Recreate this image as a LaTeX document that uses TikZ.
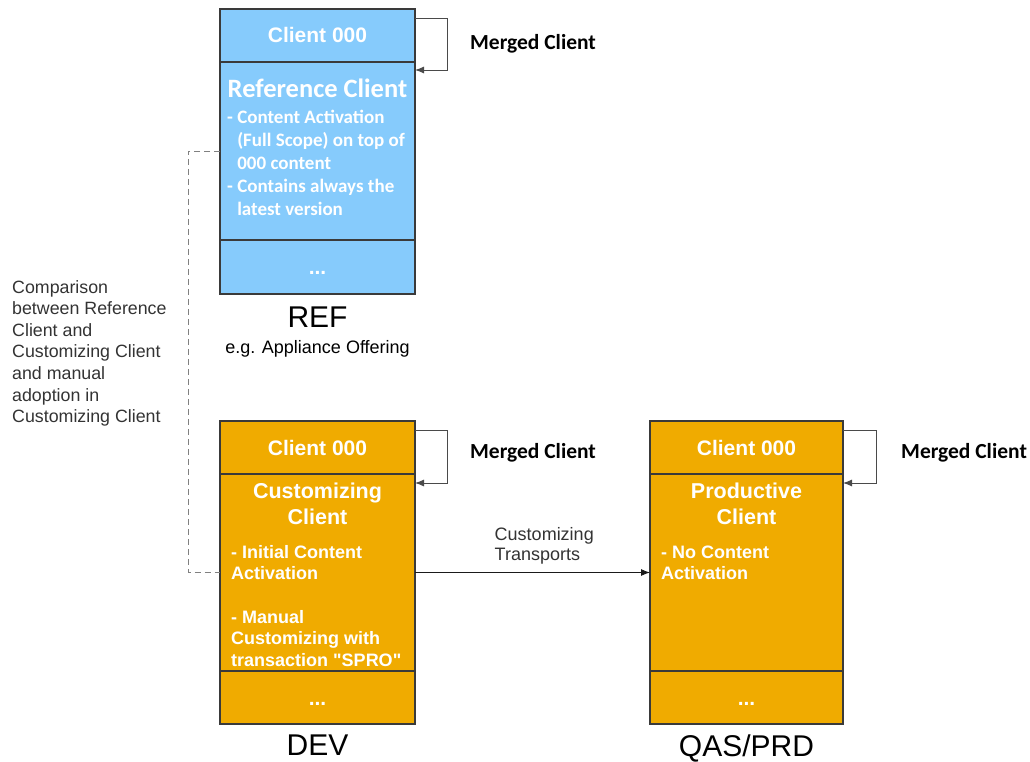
\documentclass[tikz,border=0pt]{standalone}
\usepackage{fontspec}
\setmainfont{Liberation Sans}
\newfontfamily\calibri{Carlito}
\usepackage{tikz}
\usetikzlibrary{arrows.meta, positioning, calc}
\definecolor{refblue}{HTML}{86CBFC}
\definecolor{sapgold}{HTML}{F0AB00}
\definecolor{cellline}{HTML}{3A3A3A}
\definecolor{loopgray}{HTML}{4A4A4A}
\definecolor{notegray}{HTML}{333333}
\definecolor{inkdark}{HTML}{1A1A1A}
\tikzset{
  arr/.style={-{Latex[length=9pt, width=7pt]}, line width=0.9pt, inkdark},
  selfarr/.style={-{Latex[length=9pt, width=7pt]}, line width=0.9pt, loopgray},
  cmpline/.style={dash pattern=on 6pt off 4pt, line width=0.9pt, gray},
  cell/.style={rectangle, draw=cellline, line width=1.2pt, minimum width=195pt, inner sep=0pt, outer sep=0pt, text=white, text height=15pt, text depth=0pt, font=\bfseries\fontsize{21}{25}\selectfont},
}

\begin{document}
\begin{tikzpicture}[x=1pt, y=-1pt,
    head/.style={anchor=base, align=center, inner sep=0pt, text=white, font=\bfseries\fontsize{21.5}{26}\selectfont},
    note/.style={anchor=base west, align=left, inner sep=0pt, text=white, font=\bfseries\fontsize{18}{21.7}\selectfont},
    merged/.style={anchor=base west, inner sep=0pt, font=\calibri\bfseries\fontsize{21.5}{25}\selectfont},
    syslabel/.style={inner sep=0pt, font=\fontsize{30}{36}\selectfont},
    sublabel/.style={inner sep=0pt, font=\fontsize{18}{22}\selectfont}]

  \useasboundingbox (0,0) rectangle (1030,762);

  % REF system (blue)
  \node[cell, fill=refblue, minimum height=53pt] (ref000) at (317.5,35.5) {Client 000};
  \node[cell, fill=refblue, minimum height=178pt, below=0pt of ref000] (refmain) {};
  \node[cell, fill=refblue, minimum height=54pt, below=0pt of refmain] (refdots) {...};
  \node[head, font=\calibri\bfseries\fontsize{26.5}{30}\selectfont] (refhead) at ([yshift=-36pt]refmain.north) {Reference Client};
  % multi-line notes sit on the baseline of their last line
  \node[note, font=\calibri\bfseries\fontsize{19}{23}\selectfont] (refnote) at ([xshift=7pt, yshift=-153pt]refmain.north west)
    {- Content Activation\\\hphantom{- }(Full Scope) on top of\\\hphantom{- }000 content\\- Contains always the\\\hphantom{- }latest version};
  \node[syslabel, below=13pt of refdots] (reflabel) {REF};
  \node[sublabel, below=12pt of reflabel] (refsub) {e.g. Appliance Offering};

  % DEV system
  \node[cell, fill=sapgold, minimum height=53pt] (dev000) at (317.5,447.5) {Client 000};
  \node[cell, fill=sapgold, minimum height=197pt, below=0pt of dev000] (devmain) {};
  \node[cell, fill=sapgold, minimum height=53pt, below=0pt of devmain] (devdots) {...};
  \node[head] (devhead) at ([yshift=-50pt]devmain.north) {Customizing\\Client};
  \node[note] (devnote) at ([xshift=11pt, yshift=-192.5pt]devmain.north west)
    {- Initial Content\\Activation\\[21.7pt]- Manual\\Customizing with\\transaction \textquotedbl SPRO\textquotedbl};
  \node[syslabel, below=11pt of devdots] (devlabel) {DEV};

  % QAS/PRD system
  \node[cell, fill=sapgold, minimum width=193pt, minimum height=53pt] (qas000) at (746.5,447.5) {Client 000};
  \node[cell, fill=sapgold, minimum width=193pt, minimum height=197pt, below=0pt of qas000] (qasmain) {};
  \node[cell, fill=sapgold, minimum width=193pt, minimum height=53pt, below=0pt of qasmain] (qasdots) {...};
  \node[head] (qashead) at ([yshift=-50pt]qasmain.north) {Productive\\Client};
  \node[note] (qasnote) at ([xshift=11pt, yshift=-105.7pt]qasmain.north west) {- No Content\\Activation};
  \node[syslabel, below=11pt of qasdots] (qaslabel) {QAS/PRD};

  % merged client loops
  \node[merged] (refmerge) at (470,50) {Merged Client};
  \node[merged] (devmerge) at (470,458) {Merged Client};
  \node[merged] (qasmerge) at (901,458) {Merged Client};
  \draw[selfarr] ([yshift=17.5pt]ref000.east) -- ++(32,0) |- ([yshift=-8pt]refmain.north east);
  \draw[selfarr] ([yshift=17.5pt]dev000.east) -- ++(32,0) |- ([yshift=-9pt]devmain.north east);
  \draw[selfarr] ([yshift=17.5pt]qas000.east) -- ++(33,0) |- ([yshift=-9pt]qasmain.north east);

  % comparison REF <-> DEV
  \draw[cmpline] (refmain.west) -- ++(-32,0) |- (devmain.west);
  \node[anchor=base west, align=left, inner sep=0pt, text=notegray, font=\fontsize{17.8}{21.6}\selectfont] (cmpnote) at (12,422.6)
    {Comparison\\between Reference\\Client and\\Customizing Client\\and manual\\adoption in\\Customizing Client};

  % transports DEV -> QAS/PRD
  \draw[arr] (devmain.east) -- node[pos=0.55, above=8pt, align=left, inner sep=0pt, text=notegray, font=\fontsize{18}{20}\selectfont] (translabel) {Customizing\\Transports} (qasmain.west);
\end{tikzpicture}
\end{document}
